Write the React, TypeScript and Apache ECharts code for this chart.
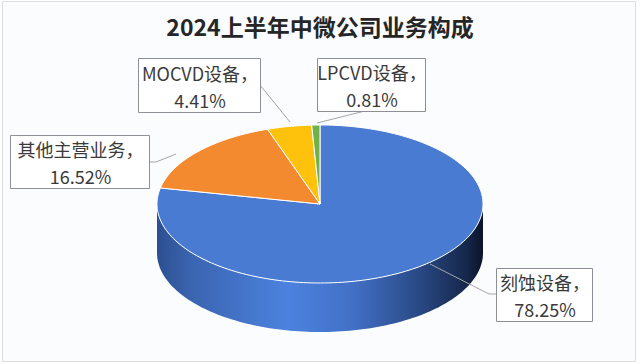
import React, { useEffect, useRef } from "react";
import * as echarts from "echarts";

const TITLE = "2024上半年中微公司业务构成";
const categories = ["刻蚀设备", "其他主营业务", "MOCVD设备", "LPCVD设备"];
const shares = [78.25, 16.52, 4.41, 0.81];
const topColors = ["#4a7bd3", "#f38a2f", "#fec20c", "#72b14a"];
const sideStops = [
  ["#2c4f8f", "#3a64b0", "#4c82de", "#4270c6", "#2a4a86", "#15274b", "#0b1428"],
  ["#9a4d16", "#c4651f", "#f38a2f", "#c96a22", "#8a4512", "#4e270a", "#2e1605"],
  ["#a67c00", "#d19f00", "#fec20c", "#d6a300", "#8c6a00", "#4e3b00", "#2e2300"],
  ["#47702d", "#5a8f3a", "#72b14a", "#5c913c", "#3d6226", "#223715", "#14200c"],
];
const sideOffsets = [0, 0.1, 0.4, 0.6, 0.8, 0.95, 1];

// layout (positions only)
const CX = 320;
const CY = 204;
const RX = 163;
const RY = 79;
const DEPTH = 49;
const labelBoxes = [
  [496, 268, 96, 53],
  [10, 135, 139, 53],
  [138, 58, 122, 54],
  [317, 58, 108, 53],
];
const leaderLines = [
  [[496, 294], [489, 294], [430, 264]],
  [[149, 162], [156, 162], [176, 154]],
  [[260, 85], [290, 122]],
  [[365, 111], [317, 123]],
];

const total = shares.reduce((a, b) => a + b, 0);
function angles(i: number, v: number) {
  let before = 0;
  for (let k = 0; k < i; k++) before += shares[k];
  const a1 = -Math.PI / 2 + (before / total) * Math.PI * 2;
  const a2 = a1 + (v / total) * Math.PI * 2;
  return [a1, a2];
}
function arcPts(a1: number, a2: number, dy: number) {
  const pts: number[][] = [];
  const n = Math.max(2, Math.ceil(((a2 - a1) / (Math.PI * 2)) * 240));
  for (let s = 0; s <= n; s++) {
    const a = a1 + ((a2 - a1) * s) / n;
    pts.push([CX + RX * Math.cos(a), CY + RY * Math.sin(a) + dy]);
  }
  return pts;
}

export default function App() {
  const ref = useRef<HTMLDivElement>(null);
  useEffect(() => {
    if (!ref.current) return;
    const chart = echarts.init(ref.current, null, { renderer: "svg" });
    const data = categories.map((name, i) => ({ name, value: shares[i] }));

    const renderSide = (params: any, api: any) => {
      const i = params.dataIndex;
      const [a1, a2] = angles(i, api.value(0));
      const children: any[] = [];
      for (const off of [-Math.PI * 2, 0, Math.PI * 2]) {
        const lo = Math.max(a1, off);
        const hi = Math.min(a2, off + Math.PI);
        if (hi > lo) {
          const top = arcPts(lo, hi, 0);
          const bot = arcPts(lo, hi, DEPTH).reverse();
          children.push({
            type: "polygon",
            shape: { points: top.concat(bot) },
            style: {
              fill: new echarts.graphic.LinearGradient(
                CX - RX, 0, CX + RX, 0,
                sideOffsets.map((o, k) => ({ offset: o, color: sideStops[i][k] })),
                true
              ),
              stroke: null,
            },
          });
        }
      }
      return { type: "group", children };
    };

    const renderTop = (params: any, api: any) => {
      const i = params.dataIndex;
      const [a1, a2] = angles(i, api.value(0));
      const pts = [[CX, CY]].concat(arcPts(a1, a2, 0));
      return {
        type: "polygon",
        shape: { points: pts },
        style: { fill: topColors[i], stroke: "#ffffff", lineWidth: 1, lineJoin: "round" },
      };
    };

    const graphics: any[] = [
      {
        type: "rect",
        shape: { x: 2.5, y: 1.5, width: 633, height: 360 },
        style: { fill: "#fbfcfe", stroke: "#dcdde0", lineWidth: 1 },
        z: -10,
      },
    ];
    categories.forEach((name, i) => {
      const [x, y, w, h] = labelBoxes[i];
      graphics.push({
        type: "polyline",
        shape: { points: leaderLines[i] },
        style: { stroke: "#a6a6a6", lineWidth: 1, fill: null },
        z: 20,
      });
      graphics.push({
        type: "rect",
        shape: { x: x + 0.5, y: y + 0.5, width: w, height: h },
        style: { fill: "#ffffff", stroke: "#8c9096", lineWidth: 1 },
        z: 21,
      });
      graphics.push({
        type: "text",
        x: x + w / 2 + 1,
        y: y + h / 2 + 1,
        style: {
          text: name + "，\n" + shares[i].toFixed(2) + "%",
          fontSize: 18,
          lineHeight: 27,
          fontFamily: "Noto Sans CJK SC",
          fill: "#3a3a3a",
          align: "center",
          verticalAlign: "middle",
        },
        z: 22,
      });
    });

    chart.setOption({
      animation: false,
      title: {
        text: TITLE,
        left: "center",
        top: 9,
        textStyle: {
          fontSize: 23,
          fontWeight: "bold",
          fontFamily: "Noto Sans CJK SC",
          color: "#262626",
        },
      },
      series: [
        {
          type: "custom",
          coordinateSystem: "none",
          renderItem: renderSide,
          data,
          z: 2,
          silent: true,
        },
        {
          type: "custom",
          coordinateSystem: "none",
          renderItem: renderTop,
          data,
          z: 3,
          silent: true,
        },
      ],
      graphic: graphics,
    });
    return () => chart.dispose();
  }, []);
  return (
    <div
      ref={ref}
      style={{ position: "fixed", left: 0, top: 0, width: 640, height: 364, background: "#ffffff" }}
    />
  );
}
